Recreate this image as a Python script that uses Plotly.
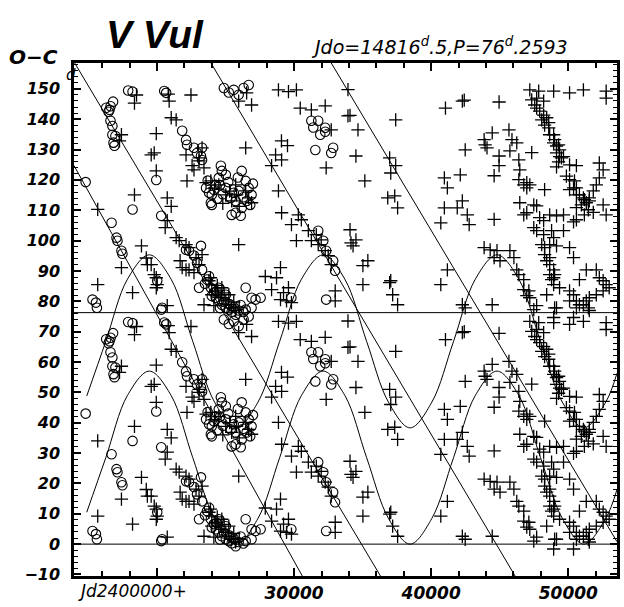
import plotly.graph_objects as go

# Ephemeris
JD0 = 14816.5
P = 76.2593

# Open circles: JD-2400000 and O-C (days); every point is also drawn at O-C + P
circ_jd = [14800, 15300, 15550, 15620, 16300, 16540, 16620, 16470, 16800,
           16610, 16750, 16750, 16970, 16830, 16900, 18220, 16690, 17050, 17120, 17410, 17480,
           18220, 17900, 20020, 20380, 20310, 19950, 20310, 20530, 20670,
           21840, 22120, 22190, 22700, 22920, 23290, 23210, 23290, 24660, 24730, 25020,
           23580, 24000, 24290, 24510, 25020, 25380, 25740, 25960, 26180, 26470, 26690, 26900,
           26540, 26180, 25740, 25450, 26110, 24000, 23930,
           23800, 24150, 24400, 24800, 25200, 25600, 26300, 26800, 27000, 25900, 24600, 23700,
           22120, 22340, 22700, 23210, 22920, 23290,
           23650, 23930, 24150, 24290, 24510, 24730, 25020, 25240, 25450, 25740, 25960, 26470, 24510, 25020,
           23800, 24000, 24350, 24600, 24900, 25300, 25600, 26100, 26300, 23500,
           26470, 26900, 27190, 27560, 26900, 23070, 29800,
           31260, 31760, 32270, 31910, 31550, 32850, 32710, 32270, 31400,
           31760, 32130, 32340, 32850, 32990, 32340,
           24880, 25600, 26320, 26690, 25960, 25240]
circ_oc = [43.0, 4.3, 3.3, 1.6, 67.5, 66.8, 68.0, 66.2, 69.5,
           63.2, 61.5, 58.6, 58.2, 56.0, 55.0, 34.0, 29.6, 24.7, 23.7, 20.4, 19.4,
           72.8, 73.2, 10.5, 1.6, 1.0, 43.7, 31.9, 73.0, 72.4,
           59.9, 56.9, 55.3, 54.3, 52.6, 54.3, 51.6, 50.3, 48.4, 46.7, 45.4,
           41.1, 38.8, 42.1, 44.4, 41.1, 37.8, 36.8, 40.1, 46.7, 43.4, 41.1, 38.8,
           36.8, 34.5, 32.9, 32.2, 31.9, 35.5, 36.2,
           39.5, 40.5, 37.5, 39.0, 43.0, 39.5, 38.0, 35.5, 42.5, 44.5, 42.0, 43.5,
           20.7, 20.4, 18.8, 22.0, 16.4, 14.1,
           10.9, 8.2, 6.6, 4.9, 3.9, 2.6, 1.6, 1.0, 0.3, -0.7, 0.7, 1.0, 8.2, 5.9,
           12.0, 5.5, 7.0, 1.5, 3.5, 2.8, 1.8, 2.5, 0.2, 9.5,
           8.2, 4.9, 4.3, 4.9, 1.6, 8.2, 4.9,
           63.2, 63.2, 60.9, 58.6, 53.6, 54.3, 52.6, 59.6, 61.0,
           27.0, 23.7, 20.4, 17.1, 13.8, 4.3,
           74.0, 73.4, 74.0, 75.0, 71.8, 72.5]

# Crosses: JD-2400000 and O-C (days)
plus_jd = [15680, 18360, 17410, 15680, 18220, 18870, 19220, 19300, 19580, 19800, 19950, 20020, 19950,
           20750, 20750, 20750, 21040, 19950, 19580, 19800, 19950, 22190, 17410, 17270, 18510, 18360,
           20890, 21400, 23070, 23430, 23290, 22480, 22120, 22560, 22700, 23070,
           23580, 23930, 24510, 25020, 25450, 25810, 26690, 26900, 26470, 25740,
           24200, 24800, 25300, 26000,
           21400, 21620, 22120, 22340, 21690, 22340, 22850, 23070, 23290, 21840, 22120, 22700,
           23790, 24000, 24290, 24510, 24730, 25020, 25240, 25450, 25740, 24000, 24730, 25240, 24150, 23430,
           23900, 24400, 24900, 25600, 26000,
           25960, 26470, 28860, 28360, 29090, 28650, 29080, 29520, 30450, 31260, 32270, 32710, 32340, 33930,
           30310, 30530, 31040, 31260, 31760, 31620, 31980, 32270, 32490, 32710, 30170, 29810,
           33000, 33000, 29010, 28720, 29590, 29450,
           28860, 30170, 29590, 26540, 26900, 25960,
           20600, 20820, 21040, 27900, 28360, 29230, 29810, 29010, 33930, 29090,
           34080, 34660, 34510, 35160, 37410, 36970, 37410, 37050, 36830, 37340, 37550,
           34080, 34150, 34510, 34300, 35380, 35020, 35020,
           36970, 37050, 37190, 37550,
           40960, 41180, 42120, 40960, 42410, 42270, 41040,
           42480, 41900, 42270, 42630, 42770, 40700, 41180, 40700, 42270, 42480,
           43860, 43930, 44070, 44450, 44950, 44950, 44590, 45670, 45740, 46240,
           46390, 46460, 46390, 46750, 46970, 47190, 46970,
           46460, 46750, 46970, 47480, 47690, 47480, 47690, 47910,
           48200, 48060, 48270, 48270, 48420, 48640, 48930, 48780, 49000, 48930, 49360,
           43860, 44300, 44800, 45020, 44590, 45740, 46030, 46240, 46390, 46750, 46750, 47120, 46970, 47190,
           44450, 47690, 47480, 49000,
           47690, 47910, 48200, 48060, 48270, 48570, 48640, 48930, 49140, 49360, 49140, 49500,
           47190, 47840, 47690, 48200, 47550,
           48930, 50090, 51100, 52760, 52760,
           49860, 50090, 50450, 50380, 50590, 50810, 51100, 51310, 51530, 50950, 50590,
           50090, 50590, 52260, 52540, 52260, 52040, 51820, 51530,
           52540, 52760, 51170, 50590, 49650, 49140, 48640,
           48200, 48780, 48930, 48640, 49140, 48640, 48640, 48930,
           49650, 50090, 50380, 50810, 51310, 52040, 52260, 52540, 52760, 52980, 52540, 52040, 51530,
           51310, 51100, 51460, 51530,
           50090, 50380, 50590, 50810, 50090, 50590,
           48420, 49140, 50380, 48930,
           44950, 45890, 47330, 48270, 47330, 48420, 48570, 48930, 49000, 49290, 49360, 49650, 49290,
           49140, 50090, 51170, 50590, 51460, 51820, 50380, 44590]
plus_oc = [34.0, 38.8, 14.8, 9.2, 6.6, 22.0, 18.0, 15.8, 15.8, 12.5, 11.5, 9.2, 8.2,
           2.3, 30.3, 37.8, 35.0, 59.0, 52.0, 52.6, 46.7, 43.4, 58.6, 56.6, 71.7, 69.0,
           69.7, 63.5, 51.0, 47.7, 54.3, 71.7, 52.0, 48.4, 47.0, 50.0,
           42.8, 43.4, 42.1, 38.8, 36.8, 38.8, 37.8, 36.2, 40.1, 42.1,
           41.0, 36.0, 40.0, 35.0,
           24.7, 23.7, 22.4, 21.4, 17.1, 14.1, 18.1, 15.8, 19.1, 14.8, 14.1, 13.2,
           10.5, 9.2, 7.2, 5.9, 4.9, 3.9, 2.6, 1.6, 0.7, 5.9, 8.2, 5.9, 2.3, 2.6,
           11.5, 9.0, 6.5, 3.5, 1.8,
           22.4, 54.3, 40.1, 48.4, 50.3, 52.0, 56.6, 55.0, 67.4, 66.8, 68.1, 60.2, 47.7, 64.8,
           32.2, 30.6, 27.0, 23.7, 22.4, 25.7, 24.0, 20.4, 18.8, 15.8, 23.7, 29.0,
           7.2, 3.9, 14.8, 11.5, 8.2, 3.9,
           73.4, 73.4, 72.8, 72.4, 68.4, 69.7,
           28.0, 72.0, 64.2, 11.9, 7.6, 6.6, 3.3, 4.3, 73.5, 32.9,
           65.0, 60.2, 51.6, 43.4, 63.5, 51.0, 48.4, 46.0, 37.8, 38.5, 34.5,
           27.3, 23.0, 24.0, 22.0, 17.1, 15.5, 9.2,
           9.9, 10.5, 5.9, 2.6,
           44.4, 41.1, 45.4, 34.5, 70.0, 69.7, 67.4,
           53.6, 34.5, 36.8, 32.2, 29.0, 29.6, 14.1, 9.2, 2.6, 1.6,
           57.0, 55.3, 54.3, 59.2, 51.6, 48.4, 45.1, 60.2, 53.3, 55.9,
           50.3, 47.0, 43.8, 42.1, 42.8, 42.1, 41.1,
           36.2, 32.2, 32.9, 35.5, 35.2, 28.0, 27.0, 31.3,
           25.7, 22.4, 21.4, 19.1, 17.1, 15.8, 14.1, 10.9, 12.5, 9.2, 8.2,
           21.4, 20.7, 20.4, 17.1, 18.1, 20.4, 18.1, 14.1, 12.5, 10.9, 7.6, 7.2, 5.6, 4.9,
           2.6, 2.3, 1.0, 1.6,
           67.4, 66.4, 65.1, 63.5, 61.8, 60.9, 58.6, 55.9, 54.9, 53.6, 52.6, 51.0,
           73.4, 73.0, 70.7, 69.7, 68.4,
           73.0, 72.4, 73.4, 73.0, 70.7,
           45.0, 43.8, 43.4, 41.1, 41.1, 38.8, 37.8, 36.2, 36.8, 35.5, 38.8,
           48.7, 48.4, 49.3, 47.0, 44.4, 42.1, 40.1, 37.8,
           35.5, 32.2, 32.2, 30.6, 32.2, 31.9, 32.2,
           30.3, 27.0, 24.7, 22.4, 22.0, 18.1, 12.5, 11.5,
           27.0, 21.4, 18.1, 10.9, 14.1, 14.1, 11.5, 10.5, 9.2, 8.2, 7.2, 5.9, 4.9,
           3.9, 2.6, 1.6, 0.7,
           7.2, 5.9, 3.9, 2.6, 3.9, 1.6,
           5.9, 1.6, -1.6, -1.6,
           69.4, 57.0, 52.7, 40.5, 70.1, 64.2, 62.6, 58.6, 57.0, 55.3, 51.4, 51.4, 49.7,
           48.0, 40.5, 37.2, 34.6, 33.9, 33.0, 29.9, 30.7]

# Fitted O-C curve (lower branch) and its companion shifted by P/2
curve_jd = [14880, 16270, 17850, 19440, 21030, 22610, 24200, 25780, 27370, 28950, 30540,
            32120, 33700, 35290, 36880, 38460, 40050, 41630, 43220, 44800, 46390, 47970,
            49560, 51140, 52730, 53550]
curve_lo = [10.5, 28.5, 49.0, 57.0, 49.0, 28.5, 8.5, 0.0, 8.5, 28.5, 49.0,
            57.0, 49.0, 28.5, 8.5, 0.0, 8.5, 28.5, 49.0, 57.0, 49.0, 28.5,
            8.5, 0.0, 8.5, 18.0]
curve_hi = [48.8, 66.8, 87.3, 95.3, 87.3, 66.8, 46.8, 38.3, 46.8, 66.8, 87.3,
            95.3, 87.3, 66.8, 46.8, 38.3, 46.8, 66.8, 87.3, 95.3, 87.3, 66.8,
            46.8, 38.3, 46.8, 56.3]

# Linear ephemeris trends (start, end) in (JD, O-C)
trend_jd = [[14000, 36300], [13950, 30600], [23940, 46120], [32710, 53550]]
trend_oc = [[158.5, -10.5], [124.7, -10.5], [158.5, -10.5], [158.5, 0.8]]

X_RANGE = [13950, 53550]
Y_RANGE = [-10.5, 158.5]

fig = go.Figure()

for xs, ys in zip(trend_jd, trend_oc):
    fig.add_trace(go.Scatter(x=xs, y=ys, mode="lines",
                             line=dict(color="black", width=1), hoverinfo="skip"))

for ys in (curve_lo, curve_hi):
    fig.add_trace(go.Scatter(x=curve_jd, y=ys, mode="lines",
                             line=dict(color="black", width=1, shape="spline", smoothing=1.0),
                             hoverinfo="skip"))

fig.add_hline(y=0, line=dict(color="black", width=1))
fig.add_hline(y=P, line=dict(color="black", width=1))

# each O-C value shown twice: at its value and one period higher
fig.add_trace(go.Scatter(
    x=circ_jd + circ_jd,
    y=circ_oc + [v + P for v in circ_oc],
    mode="markers",
    marker=dict(symbol="circle-open", size=9.5, color="black", line=dict(width=1.1, color="black")),
))
fig.add_trace(go.Scatter(
    x=plus_jd + plus_jd,
    y=plus_oc + [v + P for v in plus_oc],
    mode="markers",
    marker=dict(symbol="cross-thin", size=9.5, color="black", line=dict(width=1.3, color="black")),
))

tick_font = dict(family="DejaVu Sans", size=16, color="black", weight="bold", style="italic")

fig.update_xaxes(
    range=X_RANGE, showgrid=False, zeroline=False,
    showline=True, linewidth=2.5, linecolor="black", mirror="allticks",
    ticks="inside", ticklen=8, tickwidth=1.5, tickcolor="black",
    tickmode="array", tickvals=[20000, 30000, 40000, 50000],
    ticktext=["", "30000", "40000", "50000"],
    tickfont=dict(family="DejaVu Sans", size=17, color="black", weight="bold", style="italic"),
    minor=dict(tickmode="linear", tick0=0, dtick=2000, ticks="inside", ticklen=5,
               tickwidth=1.5, tickcolor="black", showgrid=False),
)
fig.update_yaxes(
    range=Y_RANGE, showgrid=False, zeroline=False,
    showline=True, linewidth=2.5, linecolor="black", mirror="allticks",
    ticks="inside", ticklen=7, tickwidth=1.5, tickcolor="black",
    tickmode="linear", tick0=0, dtick=10,
    tickfont=tick_font, ticklabelstandoff=8,
    minor=dict(tickmode="linear", tick0=0, dtick=2, ticks="inside", ticklen=4,
               tickwidth=1, tickcolor="black", showgrid=False),
)

fig.add_annotation(text="V Vul", xref="paper", yref="paper", x=0.055, y=1.056,
                   xanchor="left", yanchor="middle", showarrow=False,
                   font=dict(family="Liberation Sans", size=39, color="black",
                             weight="bold", style="italic"))
fig.add_annotation(text="Jdo=14816<sup>d</sup>.5,P=76<sup>d</sup>.2593",
                   xref="paper", yref="paper", x=0.432, y=1.034,
                   xanchor="left", yanchor="middle", showarrow=False,
                   font=dict(family="DejaVu Sans", size=19, color="black", style="italic"))
fig.add_annotation(text="O\u2212C", xref="paper", yref="paper", x=-0.124, y=1.012,
                   xanchor="left", yanchor="middle", showarrow=False,
                   font=dict(family="DejaVu Sans", size=20, color="black",
                             weight="bold", style="italic"))
fig.add_annotation(text="d", xref="paper", yref="paper", x=-0.006, y=0.976,
                   xanchor="center", yanchor="middle", showarrow=False,
                   font=dict(family="DejaVu Sans", size=15, color="black", style="italic"))
fig.add_annotation(text="Jd2400000+", xref="paper", yref="paper", x=0.004, y=-0.029,
                   xanchor="left", yanchor="middle", showarrow=False,
                   font=dict(family="DejaVu Sans", size=17, color="black", style="italic"))

fig.update_layout(
    width=624, height=607,
    margin=dict(l=74, r=4, t=63, b=30),
    paper_bgcolor="white", plot_bgcolor="white",
    showlegend=False,
)

fig.write_html("out.html")
